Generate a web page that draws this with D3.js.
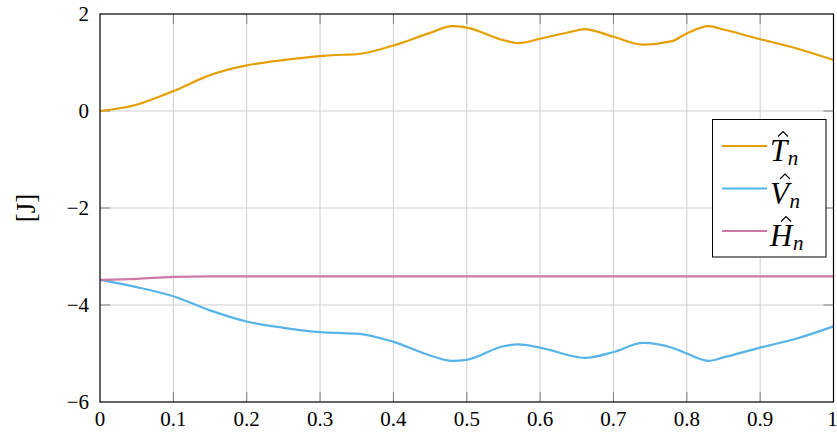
<!DOCTYPE html>
<html>
<head>
<meta charset="utf-8">
<script src="https://cdn.jsdelivr.net/npm/d3@7"></script>
</head>
<body style="margin:0">
<svg id="energyplot" width="837" height="432"></svg>
<script>
// ---- data ----
const tValues = [0, 0.05, 0.1, 0.15, 0.2, 0.25, 0.3, 0.33, 0.35, 0.4, 0.45, 0.48, 0.5, 0.55, 0.57, 0.6, 0.65, 0.66, 0.7, 0.74, 0.78, 0.8, 0.83, 0.85, 0.9, 0.95, 1];
const seriesT = [0, 0.13, 0.41, 0.74, 0.94, 1.05, 1.13, 1.16, 1.17, 1.35, 1.61, 1.75, 1.72, 1.46, 1.40, 1.49, 1.66, 1.69, 1.53, 1.37, 1.44, 1.60, 1.75, 1.68, 1.48, 1.29, 1.05];
const seriesV = [-3.48, -3.63, -3.82, -4.11, -4.34, -4.47, -4.56, -4.58, -4.59, -4.76, -5.04, -5.15, -5.13, -4.85, -4.81, -4.88, -5.07, -5.09, -4.97, -4.78, -4.88, -5.00, -5.15, -5.08, -4.88, -4.69, -4.44];
const seriesH = [-3.48, -3.46, -3.42, -3.41, -3.41, -3.41, -3.41, -3.41, -3.41, -3.41, -3.41, -3.41, -3.41, -3.41, -3.41, -3.41, -3.41, -3.41, -3.41, -3.41, -3.41, -3.41, -3.41, -3.41, -3.41, -3.41, -3.41];
const xTicks = [0, 0.1, 0.2, 0.3, 0.4, 0.5, 0.6, 0.7, 0.8, 0.9, 1];
const yTicks = [-6, -4, -2, 0, 2];
const seriesNames = ["T", "V", "H"];
const seriesColors = ["#E69F00", "#56B4E9", "#CC79A7"];
const yLabel = "[J]";

const FONT = "'Liberation Serif'";

// ---- layout ----
const svg = d3.select("#energyplot");
const padL = 100, padR = 833.5, padT = 14, padB = 402;
const x = d3.scaleLinear().domain([0, 1]).range([padL, padR]);
const y = d3.scaleLinear().domain([-6, 2]).range([padB, padT]);
const tickLen = 10;

function txt(sel) {
  return sel.attr("font-family", FONT).style("font-family", FONT, "important");
}

// grid
const g = svg.append("g");
g.selectAll(".gx").data(xTicks.slice(1, -1)).enter().append("line")
  .attr("x1", d => x(d)).attr("x2", d => x(d)).attr("y1", padT).attr("y2", padB)
  .attr("stroke", "#cfcfcf").attr("stroke-width", 1);
g.selectAll(".gy").data(yTicks.slice(1, -1)).enter().append("line")
  .attr("x1", padL).attr("x2", padR).attr("y1", d => y(d)).attr("y2", d => y(d))
  .attr("stroke", "#cfcfcf").attr("stroke-width", 1);

// inward ticks
const tk = svg.append("g").attr("stroke", "#808080").attr("stroke-width", 1);
xTicks.slice(1, -1).forEach(d => {
  tk.append("line").attr("x1", x(d)).attr("x2", x(d)).attr("y1", padB).attr("y2", padB - tickLen);
  tk.append("line").attr("x1", x(d)).attr("x2", x(d)).attr("y1", padT).attr("y2", padT + tickLen);
});
yTicks.slice(1, -1).forEach(d => {
  tk.append("line").attr("x1", padL).attr("x2", padL + tickLen).attr("y1", y(d)).attr("y2", y(d));
  tk.append("line").attr("x1", padR).attr("x2", padR - tickLen).attr("y1", y(d)).attr("y2", y(d));
});

// tick labels
const fmtX = d => d === 0 ? "0" : d === 1 ? "1" : d3.format(".1f")(d);
const fmtY = d => (d < 0 ? "\u2212" : "") + Math.abs(d);
txt(svg.append("g").selectAll("text").data(xTicks).enter().append("text"))
  .attr("x", d => x(d) - (d === 1 ? 1 : 0)).attr("y", 426).attr("text-anchor", "middle")
  .attr("font-size", 21).text(fmtX);
txt(svg.append("g").selectAll("text").data(yTicks).enter().append("text"))
  .attr("x", 89).attr("y", d => y(d) + 7.3).attr("text-anchor", "end")
  .attr("font-size", 21).text(fmtY);

// y label
txt(svg.append("text")).attr("transform", "translate(35,208) rotate(-90)")
  .attr("text-anchor", "middle").attr("font-size", 27).text(yLabel);

// lines
const allSeries = [seriesT, seriesV, seriesH];
const line = d3.line().x((d, i) => x(tValues[i])).y(d => y(d)).curve(d3.curveMonotoneX);
svg.append("clipPath").attr("id", "clip").append("rect")
  .attr("x", padL).attr("y", padT - 2).attr("width", padR - padL).attr("height", padB - padT + 4);
svg.append("g").attr("clip-path", "url(#clip)").selectAll("path").data(allSeries).enter().append("path")
  .attr("d", line).attr("fill", "none")
  .attr("stroke", (d, i) => seriesColors[i]).attr("stroke-width", 2.2)
  .attr("stroke-linejoin", "round");

// frame
svg.append("rect").attr("x", padL).attr("y", padT).attr("width", padR - padL).attr("height", padB - padT)
  .attr("fill", "none").attr("stroke", "#000").attr("stroke-width", 1.2);

// legend
const lg = svg.append("g");
lg.append("rect").attr("x", 712.5).attr("y", 119.5).attr("width", 113.5).attr("height", 137.5)
  .attr("fill", "#fff").attr("stroke", "#000").attr("stroke-width", 1);
seriesNames.forEach((name, i) => {
  const ly = 146 + i * 42.5;
  lg.append("line").attr("x1", 722).attr("x2", 767).attr("y1", ly).attr("y2", ly)
    .attr("stroke", seriesColors[i]).attr("stroke-width", 2.2);
  const t = txt(lg.append("text")).attr("x", 770).attr("y", ly + 15)
    .attr("font-size", 31).attr("font-style", "italic");
  t.append("tspan").text(name);
  t.append("tspan").attr("font-size", 21).attr("dy", 4).attr("dx", 0.5).text("n");
  // hat accent drawn as a small path
  const hx = [783, 785, 786][i];
  const hy = ly - 13;
  lg.append("path")
    .attr("d", `M${hx - 5},${hy + 3.5} L${hx},${hy - 1.5} L${hx + 5},${hy + 3.5}`)
    .attr("fill", "none").attr("stroke", "#000").attr("stroke-width", 1.1)
    .attr("stroke-linejoin", "miter");
});
</script>
</body>
</html>
